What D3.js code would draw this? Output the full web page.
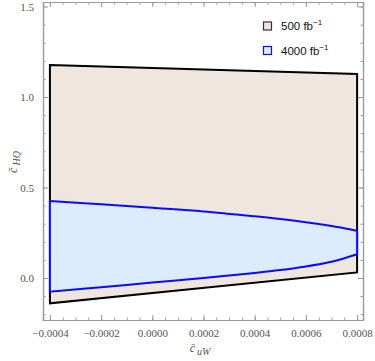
<!DOCTYPE html>
<html>
<head>
<meta charset="utf-8">
<script src="https://cdn.jsdelivr.net/npm/d3@7"></script>
<style>
  body { margin: 0; background: #fff; }
  svg text { font-family: "Liberation Serif", "DejaVu Serif", serif; }
</style>
</head>
<body>
<div id="chart"></div>
<script>
// region bounds
const region500X = [-0.0004, 0.0008];
const region500Top = [1.177, 1.127];
const region500Bottom = [-0.14, 0.031];

const region4000X = [-0.0004, -0.0002, 0.0, 0.0002, 0.0004, 0.0005, 0.0006, 0.0007, 0.00075, 0.0008];
const region4000Top = [0.425, 0.407, 0.388, 0.368, 0.341, 0.326, 0.308, 0.287, 0.275, 0.26];
const region4000Bottom = [-0.076, -0.051, -0.025, 0.0, 0.028, 0.044, 0.064, 0.09, 0.109, 0.131];

const xTicks = [-0.0004, -0.0002, 0.0, 0.0002, 0.0004, 0.0006, 0.0008];
const yTicks = [0.0, 0.5, 1.0, 1.5];
const legendLabels = ["500", "4000"];

const width = 375;
const height = 361;
const marginLeft = 43;
const marginRight = 12;
const marginTop = 2;
const marginBottom = 41;

const svg = d3.select("#chart")
  .append("svg")
    .attr("width", width)
    .attr("height", height);

const x = d3.scaleLinear([-0.000427, 0.000823], [marginLeft, width - marginRight]);
const y = d3.scaleLinear([-0.232, 1.525], [height - marginBottom, marginTop]);

// outer region (500 fb-1)
const outer = region500X.map((v, i) => ({x: v, top: region500Top[i], bot: region500Bottom[i]}));
const outerPts = outer.map(d => [x(d.x), y(d.top)])
  .concat(outer.slice().reverse().map(d => [x(d.x), y(d.bot)]));
svg.append("path")
  .attr("d", "M" + outerPts.join("L") + "Z")
  .attr("fill", "#eee6df")
  .attr("stroke", "#000")
  .attr("stroke-width", 2)
  .attr("stroke-linejoin", "miter");

// inner region (4000 fb-1)
const inner = region4000X.map((v, i) => ({x: v, top: region4000Top[i], bot: region4000Bottom[i]}));
const area = d3.area()
  .x(d => x(d.x))
  .y0(d => y(d.bot))
  .y1(d => y(d.top))
  .curve(d3.curveCatmullRom);
svg.append("path")
  .datum(inner)
  .attr("d", area)
  .attr("fill", "#dcecfd")
  .attr("stroke", "#0a0aff")
  .attr("stroke-width", 2);

// frame with ticks on all four sides
const frameColor = "#9a9a9a";
const x0 = marginLeft, x1 = width - marginRight;
const y0 = height - marginBottom, y1 = marginTop;

const xMinor = d3.range(-0.0004, 0.00081, 0.00005);
const yMinor = d3.range(-0.2, 1.51, 0.1);

svg.append("g")
  .attr("transform", `translate(0,${y0})`)
  .call(d3.axisBottom(x).tickValues(xTicks).tickSize(-5).tickPadding(9)
    .tickFormat(d => d3.format(".4f")(d).replace("-", "\u2212")));
svg.append("g")
  .attr("transform", `translate(0,${y1})`)
  .call(d3.axisTop(x).tickValues(xTicks).tickSize(-5).tickFormat(""));
svg.append("g")
  .attr("transform", `translate(${x0},0)`)
  .call(d3.axisLeft(y).tickValues(yTicks).tickSize(-5).tickPadding(9)
    .tickFormat(d3.format(".1f")));
svg.append("g")
  .attr("transform", `translate(${x1},0)`)
  .call(d3.axisRight(y).tickValues(yTicks).tickSize(-5).tickFormat(""));

// minor ticks
svg.append("g")
  .attr("transform", `translate(0,${y0})`)
  .call(d3.axisBottom(x).tickValues(xMinor).tickSize(-2.5).tickFormat(""));
svg.append("g")
  .attr("transform", `translate(0,${y1})`)
  .call(d3.axisTop(x).tickValues(xMinor).tickSize(-2.5).tickFormat(""));
svg.append("g")
  .attr("transform", `translate(${x0},0)`)
  .call(d3.axisLeft(y).tickValues(yMinor).tickSize(-2.5).tickFormat(""));
svg.append("g")
  .attr("transform", `translate(${x1},0)`)
  .call(d3.axisRight(y).tickValues(yMinor).tickSize(-2.5).tickFormat(""));

svg.selectAll(".domain")
  .attr("stroke", frameColor)
  .attr("stroke-width", 1.2);
svg.selectAll(".tick line")
  .attr("stroke", frameColor);
svg.selectAll(".tick text")
  .attr("fill", "#555")
  .style("font-size", "11px")
  .style("font-family", "Liberation Serif, serif");

// axis titles
const xTitle = svg.append("text")
  .attr("x", 200)
  .attr("y", 352)
  .attr("text-anchor", "middle")
  .attr("fill", "#555")
  .style("font-size", "12px")
  .style("font-style", "italic");
xTitle.append("tspan").text("c\u0304");
xTitle.append("tspan").attr("dy", 3).attr("dx", 2).style("font-size", "10px").text("uW");

const yTitle = svg.append("text")
  .attr("transform", "translate(17,162) rotate(-90)")
  .attr("text-anchor", "middle")
  .attr("fill", "#555")
  .style("font-size", "12px")
  .style("font-style", "italic");
yTitle.append("tspan").text("c\u0304");
yTitle.append("tspan").attr("dy", 3).attr("dx", 2).style("font-size", "10px").text("HQ");

// legend
const legendFill = ["#eee6df", "#dcecfd"];
const legendStroke = ["#333", "#0a0aff"];
const legend = svg.append("g");
legendLabels.forEach((lab, i) => {
  const cy = 26 + i * 24.5;
  legend.append("rect")
    .attr("x", 263.5).attr("y", cy - 4)
    .attr("width", 8).attr("height", 8)
    .attr("fill", legendFill[i])
    .attr("stroke", legendStroke[i])
    .attr("stroke-width", 1.2);
  const t = legend.append("text")
    .attr("x", 281).attr("y", cy + 4)
    .attr("fill", "#111")
    .style("font-family", "Liberation Sans, Arial, sans-serif")
    .style("font-size", "11.5px");
  t.append("tspan").text(lab + " fb");
  t.append("tspan").attr("dy", -5).style("font-size", "8px").text("\u22121");
});
</script>
</body>
</html>
